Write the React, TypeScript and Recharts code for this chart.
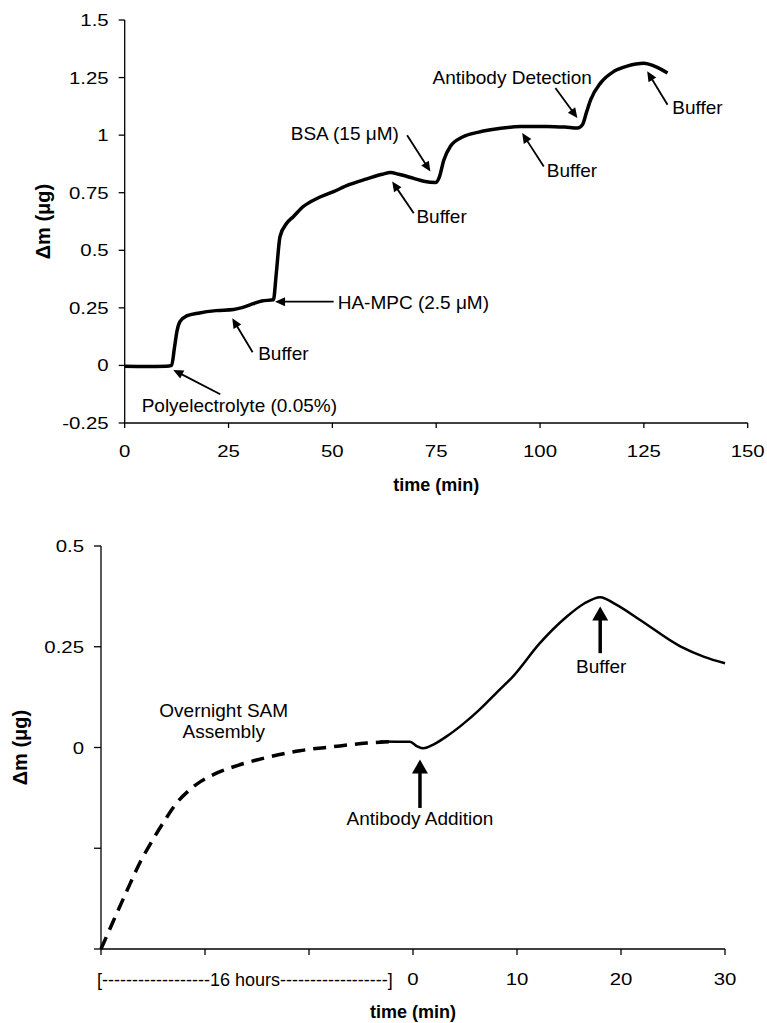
import React from 'react';
import { LineChart, Line, XAxis, YAxis, ReferenceLine, ReferenceDot } from 'recharts';

// top panel: mass change during layer build-up
const bindTime = [0, 5, 10, 11.3, 12, 12.6, 13.3, 14.9, 18, 22, 26.2, 28, 31, 33, 35.8, 36.5, 37.4, 39, 40.6, 43, 46.3, 50.3, 54, 58.3, 62, 64, 66, 69.6, 72, 74.8, 75.8, 76.8, 78.4, 81.6, 85, 88.1, 95.3, 101.7, 106, 109, 110.2, 111.2, 112.2, 114.6, 117.8, 121, 125, 127.5, 130.7];
const bindMass = [-0.004, -0.005, -0.004, 0.0, 0.08, 0.15, 0.19, 0.215, 0.228, 0.238, 0.243, 0.25, 0.268, 0.28, 0.285, 0.4, 0.56, 0.617, 0.646, 0.69, 0.725, 0.755, 0.785, 0.81, 0.83, 0.838, 0.83, 0.812, 0.8, 0.794, 0.82, 0.89, 0.951, 0.994, 1.012, 1.023, 1.037, 1.038, 1.035, 1.031, 1.045, 1.1, 1.154, 1.227, 1.277, 1.3, 1.312, 1.3, 1.27];
const bindXTicks = [0, 25, 50, 75, 100, 125, 150];
const bindYTicks = [-0.25, 0, 0.25, 0.5, 0.75, 1, 1.25, 1.5];

// bottom panel: overnight SAM (dashed) then antibody run (solid)
const samTime = [-30, -28.8, -27.5, -26.2, -25, -23.8, -22.8, -21.6, -20.4, -19, -17.5, -15.9, -14.1, -10.9, -7.7, -4.45, -1.9];
const samMass = [-0.5, -0.43, -0.355, -0.283, -0.228, -0.178, -0.14, -0.108, -0.084, -0.065, -0.05, -0.037, -0.025, -0.008, 0.002, 0.011, 0.015];
const abTime = [-3.2, -0.3, 0.4, 1, 2, 3.2, 4.8, 6.4, 8, 9.6, 12.2, 14.8, 16.5, 18, 19.5, 21.8, 25.7, 28, 30];
const abMass = [0.015, 0.014, 0.003, -0.002, 0.008, 0.027, 0.058, 0.094, 0.135, 0.176, 0.259, 0.325, 0.358, 0.373, 0.355, 0.317, 0.251, 0.225, 0.209];
const abXTicks = [-30, -20, -10, 0, 10, 20, 30];
const abYTicks = [-0.5, -0.25, 0, 0.25, 0.5];
const overnightLabel = '[------------------16 hours------------------]';

const bindData = bindTime.map((t, i) => ({ t, m: bindMass[i] }));
const samData = samTime.map((t, i) => ({ t, m: samMass[i] }));
const abData = abTime.map((t, i) => ({ t, m: abMass[i] }));

type Note = { text: string; x: number; y: number };
type Pointer = { tail: [number, number]; head: [number, number] };

const bindNotes: Note[] = [
  { text: 'Polyelectrolyte (0.05%)', x: 27.6, y: -0.172 },
  { text: 'Buffer', x: 38.2, y: 0.053 },
  { text: 'HA-MPC (2.5 \u03bcM)', x: 69.5, y: 0.277 },
  { text: 'BSA (15 \u03bcM)', x: 53, y: 1.009 },
  { text: 'Buffer', x: 76.3, y: 0.647 },
  { text: 'Buffer', x: 107.7, y: 0.85 },
  { text: 'Antibody Detection', x: 93.3, y: 1.253 },
  { text: 'Buffer', x: 137.9, y: 1.122 },
];
const bindPointers: Pointer[] = [
  { tail: [23, -0.125], head: [11.7, -0.02] },
  { tail: [30.8, 0.057], head: [25.9, 0.205] },
  { tail: [50.3, 0.277], head: [36.2, 0.277] },
  { tail: [68, 1.0], head: [73.6, 0.842] },
  { tail: [69.6, 0.661], head: [64.4, 0.799] },
  { tail: [100.9, 0.864], head: [95.7, 1.009] },
  { tail: [103.7, 1.205], head: [109, 1.074] },
  { tail: [130.7, 1.132], head: [125.8, 1.277] },
];

const abNotes: Note[] = [
  { text: 'Overnight SAM\nAssembly', x: -18.2, y: 0.067 },
  { text: 'Antibody Addition', x: 0.67, y: -0.175 },
  { text: 'Buffer', x: 18.1, y: 0.201 },
];
const abPointers: Pointer[] = [
  { tail: [0.67, -0.15], head: [0.67, -0.03] },
  { tail: [18, 0.234], head: [18, 0.35] },
];

const FONT = '"Liberation Sans", Arial, Helvetica, sans-serif';
const STRETCH = 1.2;

const arrowShape = (headLen: number, half: number, width: number) => (props: any) => {
  const { x1, y1, x2, y2 } = props;
  const dx = x2 - x1;
  const dy = y2 - y1;
  const len = Math.hypot(dx, dy) || 1;
  const ux = dx / len;
  const uy = dy / len;
  const bx = x2 - ux * headLen;
  const by = y2 - uy * headLen;
  const pts = `${x2},${y2} ${bx - uy * half},${by + ux * half} ${bx + uy * half},${by - ux * half}`;
  return (
    <g>
      <line x1={x1} y1={y1} x2={bx + ux} y2={by + uy} stroke="#000" strokeWidth={width} />
      <polygon points={pts} fill="#000" />
    </g>
  );
};

const noteShape = (text: string, size: number) => (props: any) => {
  const lines = text.split('\n');
  const lh = size * 1.15;
  const top = props.cy - ((lines.length - 1) * lh) / 2;
  return (
    <text x={props.cx} y={top} textAnchor="middle" dominantBaseline="central" fontSize={size} fontFamily={FONT} fill="#000">
      {lines.map((l, i) => (
        <tspan key={i} x={props.cx} y={top + i * lh}>{l}</tspan>
      ))}
    </text>
  );
};

// numeric tick labels in the source are drawn a little wide
const WideXTick = (props: any) => {
  const { x, y, payload } = props;
  return (
    <g transform={`translate(${x},${y})`}>
      <text transform={`scale(${STRETCH},1)`} dy="0.71em" textAnchor="middle" fontSize={17} fontFamily={FONT} fill="#000">
        {String(payload.value)}
      </text>
    </g>
  );
};

const WideYTick = (props: any) => {
  const { x, y, payload, hideNegative } = props;
  if (hideNegative && payload.value < 0) return null;
  return (
    <g transform={`translate(${x},${y})`}>
      <text transform={`scale(${STRETCH},1)`} dy="0.355em" textAnchor="end" fontSize={17} fontFamily={FONT} fill="#000">
        {String(payload.value)}
      </text>
    </g>
  );
};

const AbXTick = (props: any) => {
  const { x, y, payload } = props;
  const v = payload.value;
  if (v === -30) {
    return (
      <text x={x - 4} y={y} dy="0.71em" textAnchor="start" fontSize={18} fontFamily={FONT} fill="#000">
        {overnightLabel}
      </text>
    );
  }
  if (v < 0) return null;
  return <WideXTick {...props} />;
};

const titleStyle = { fontSize: 18, fontWeight: 700, fill: '#000', fontFamily: FONT, textAnchor: 'middle' as const };
const yTitleStyle = { ...titleStyle, fontSize: 20 };

const App: React.FC = () => {
  return (
    <div style={{ position: 'absolute', left: 0, top: 0, width: 767, height: 1023, background: '#fff' }}>
      <LineChart width={767} height={500} data={bindData} margin={{ top: 20, right: 19.3, bottom: 7, left: 64.7 }}>
        <XAxis
          dataKey="t"
          type="number"
          domain={[0, 150]}
          ticks={bindXTicks}
          tick={<WideXTick />}
          tickSize={5}
          tickMargin={17}
          height={70}
          stroke="#000"
          strokeWidth={1.3}
          label={{ value: 'time (min)', position: 'insideBottom', offset: 2, style: titleStyle }}
        />
        <XAxis xAxisId="top" orientation="top" type="number" domain={[0, 150]} height={0} tick={false} tickLine={false} stroke="#8a8a8a" strokeWidth={1.3} />
        <YAxis
          type="number"
          domain={[-0.25, 1.5]}
          ticks={bindYTicks}
          tick={<WideYTick />}
          tickSize={6}
          tickMargin={10}
          width={60}
          stroke="#000"
          strokeWidth={1.3}
          label={{ value: '\u0394m (\u03bcg)', angle: -90, position: 'insideLeft', offset: -21.7, style: yTitleStyle }}
        />
        <YAxis yAxisId="right" orientation="right" type="number" domain={[-0.25, 1.5]} width={0} tick={false} tickLine={false} stroke="#8a8a8a" strokeWidth={1.3} />
        <Line type="monotone" dataKey="m" stroke="#000" strokeWidth={3.5} dot={false} isAnimationActive={false} />
        {bindPointers.map((p, i) => (
          <ReferenceLine
            key={`bp${i}`}
            segment={[{ x: p.tail[0], y: p.tail[1] }, { x: p.head[0], y: p.head[1] }]}
            shape={arrowShape(10, 4.5, 1.8)}
          />
        ))}
        {bindNotes.map((n, i) => (
          <ReferenceDot key={`bn${i}`} x={n.x} y={n.y} r={0} shape={noteShape(n.text, 19)} />
        ))}
      </LineChart>

      <LineChart width={767} height={523} margin={{ top: 46, right: 42, bottom: 4, left: 41 }}>
        <XAxis
          dataKey="t"
          type="number"
          domain={[-30, 30]}
          ticks={abXTicks}
          tick={<AbXTick />}
          tickSize={6}
          tickMargin={18}
          height={70}
          stroke="#000"
          strokeWidth={1.3}
          label={{ value: 'time (min)', position: 'insideBottom', offset: 1, style: titleStyle }}
        />
        <XAxis xAxisId="top" orientation="top" type="number" domain={[-30, 30]} height={0} tick={false} tickLine={false} stroke="#8a8a8a" strokeWidth={1.3} />
        <YAxis
          type="number"
          domain={[-0.5, 0.5]}
          ticks={abYTicks}
          tick={<WideYTick hideNegative />}
          tickSize={7}
          tickMargin={10}
          width={60}
          stroke="#000"
          strokeWidth={1.3}
          label={{ value: '\u0394m (\u03bcg)', angle: -90, position: 'insideLeft', offset: -21, style: yTitleStyle }}
        />
        <YAxis yAxisId="right" orientation="right" type="number" domain={[-0.5, 0.5]} width={0} tick={false} tickLine={false} stroke="#8a8a8a" strokeWidth={1.3} />
        <Line data={samData} type="monotone" dataKey="m" stroke="#000" strokeWidth={3.5} strokeDasharray="13 8" dot={false} isAnimationActive={false} />
        <Line data={abData} type="monotone" dataKey="m" stroke="#000" strokeWidth={2.5} dot={false} isAnimationActive={false} />
        {abPointers.map((p, i) => (
          <ReferenceLine
            key={`ap${i}`}
            segment={[{ x: p.tail[0], y: p.tail[1] }, { x: p.head[0], y: p.head[1] }]}
            shape={arrowShape(14, 8, 3.5)}
          />
        ))}
        {abNotes.map((n, i) => (
          <ReferenceDot key={`an${i}`} x={n.x} y={n.y} r={0} shape={noteShape(n.text, 19)} />
        ))}
      </LineChart>
    </div>
  );
};

export default App;
